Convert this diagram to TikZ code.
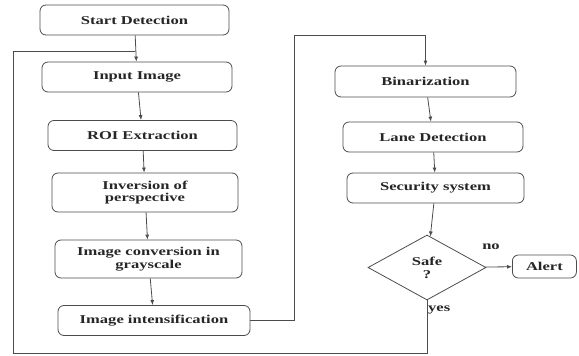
\documentclass[tikz,border=0pt]{standalone}
\usepackage{fontspec}
\setmainfont[FakeStretch=1.38]{Liberation Serif}
\usetikzlibrary{shapes.geometric,arrows.meta}

\begin{document}
\begin{tikzpicture}[x=1pt,y=-1pt,
roundnode/.style={rectangle, rounded corners=6pt, draw=black!70, thick, inner sep=0pt, minimum height=30pt, align=center, text=black!85, font=\fontsize{12}{12.5}\selectfont\bfseries},
decisionnode/.style={diamond, draw=black!70, thick, inner sep=0pt, minimum width=118pt, minimum height=65pt, align=center, text=black!85, font=\fontsize{12}{13}\selectfont\bfseries},
line/.style={draw=black!70, thick},
arrow/.style={line, -{Latex[length=5pt,width=4pt]}},
labeltext/.style={inner sep=1pt, text=black!85, font=\fontsize{12}{13}\selectfont\bfseries}
]
\useasboundingbox (0,0) rectangle (579,356);
%Nodes
\node[roundnode, minimum width=189pt] (start) at (134.5,20) {Start Detection};
\node[roundnode, minimum width=190pt] (input) at (137,77) {Input Image};
\node[roundnode, minimum width=189pt] (roi) at (142.5,135.5) {ROI Extraction};
\node[roundnode, minimum width=186pt, minimum height=39pt] (invers) at (145,192.5) {Inversion of\\perspective};
\node[roundnode, minimum width=187pt, minimum height=38pt] (gray) at (148.5,259) {Image conversion in\\grayscale};
\node[roundnode, minimum width=192pt] (intens) at (154,320.5) {Image intensification};
\node[roundnode, minimum width=181pt, minimum height=31pt] (binar) at (425.5,81.5) {Binarization};
\node[roundnode, minimum width=180pt] (lane) at (433,137) {Lane Detection};
\node[roundnode, minimum width=177pt] (secur) at (435.5,188) {Security system};
\node[decisionnode] (safe) at (427,267.5) {Safe\\?};
\node[roundnode, minimum width=64pt, minimum height=23pt, anchor=west] (alert) at (512,266.5) {Alert};
\coordinate (join) at (start.south |- 0,51);
\coordinate (upper) at (294,35);
\coordinate (lowleft) at (13,353);

%Lines
\draw[arrow] (start) -- (input);
\draw[arrow] (input) -- (roi);
\draw[arrow] (roi) -- (invers);
\draw[arrow] (invers) -- (gray);
\draw[arrow] (gray) -- (intens);
\draw[arrow] (intens.east) -| (upper) -| (binar.north);
\draw[arrow] (binar) -- (lane);
\draw[arrow] (lane) -- (secur);
\draw[arrow] (secur) -- (safe);
\draw[arrow] (safe) -- (alert);
\draw[line] (safe.south) |- (lowleft) |- (join);
\node[labeltext] (nolabel) at (491,247) {no};
\node[labeltext, anchor=north west] (yeslabel) at ([yshift=-4pt]safe.south) {yes};

\end{tikzpicture}
\end{document}
